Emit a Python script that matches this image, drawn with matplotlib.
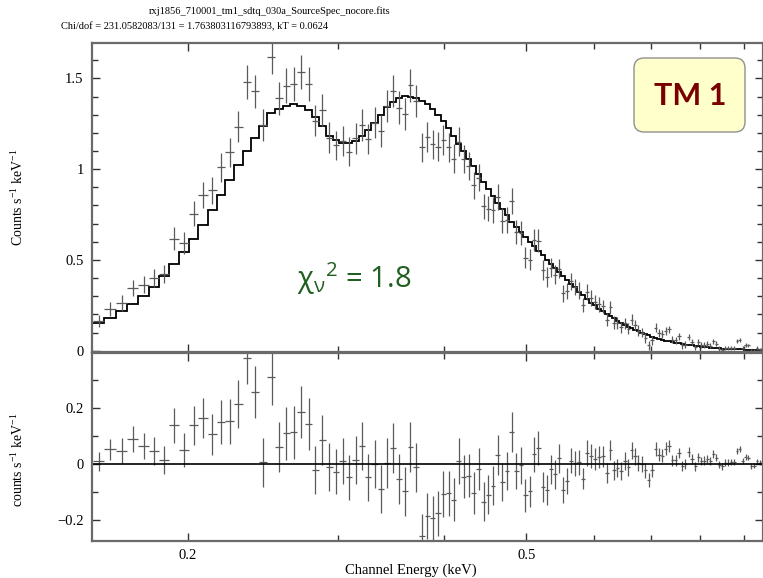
import numpy as np
import matplotlib
matplotlib.use("Agg")
import matplotlib.pyplot as plt
from matplotlib.patches import FancyBboxPatch
from matplotlib.transforms import IdentityTransform
from matplotlib.ticker import FixedLocator, NullFormatter, FixedFormatter

plt.rcParams['font.family'] = ['Liberation Serif', 'DejaVu Serif']
plt.rcParams['mathtext.fontset'] = 'custom'
plt.rcParams['mathtext.rm'] = 'Liberation Serif'
plt.rcParams['mathtext.it'] = 'Liberation Serif:italic'

# ---------------- data ----------------
energy = [0.1572,0.1622,0.1674,0.1724,0.1776,0.1826,0.1877,0.1929,0.1982,0.2033,
          0.2085,0.2138,0.2189,0.2241,0.2293,0.2348,0.2401,0.2454,0.2510,0.2560,
          0.2611,0.2664,0.2720,0.2775,0.2825,0.2879,0.2934,0.2987,0.3042,0.3097,
          0.3151,0.3205,0.3260,0.3317,0.3372,0.3427,0.3483,0.3540,0.3598,0.3653,
          0.3710,0.3768,0.3825,0.3882,0.3938,0.3995,0.4053,0.4109,0.4168,0.4221,
          0.4279,0.4337,0.4396,0.4456,0.4512,0.4569,0.4628,0.4686,0.4746,0.4807,
          0.4867,0.4925,0.4987,0.5046,0.5105,0.5165,0.5227,0.5288,0.5346,0.5404,
          0.5467,0.5527,0.5587,0.5648,0.5704,0.5767,0.5829,0.5893,0.5957,0.6017,
          0.6082,0.6148,0.6215,0.6276,0.6334,0.6396,0.6461,0.6526,0.6589,0.6650,
          0.6710,0.6770,0.6833,0.6900,0.6964,0.7026,0.7097,0.7161,0.7225,0.7292,
          0.7357,0.7423,0.7492,0.7559,0.7620,0.7689,0.7760,0.7829,0.7893,0.7957,
          0.8022,0.8088,0.8153,0.8220,0.8287,0.8354,0.8422,0.8491,0.8560,0.8630,
          0.8700,0.8771,0.8842,0.8907,0.8980,0.9053,0.9117,0.9191,0.9258,0.9334,
          0.9402,0.9468]

model = [0.153,0.180,0.217,0.257,0.300,0.353,0.410,0.478,0.544,0.617,
         0.694,0.777,0.860,0.942,1.021,1.102,1.172,1.236,1.310,1.330,
         1.350,1.357,1.350,1.325,1.290,1.240,1.185,1.158,1.145,1.143,
         1.155,1.180,1.215,1.255,1.300,1.345,1.372,1.393,1.402,1.400,
         1.390,1.378,1.360,1.330,1.300,1.265,1.225,1.185,1.140,1.100,
         1.058,1.015,0.972,0.930,0.892,0.853,0.815,0.780,0.745,0.710,
         0.680,0.652,0.625,0.600,0.575,0.550,0.525,0.500,0.477,0.455,
         0.432,0.410,0.390,0.370,0.350,0.325,0.305,0.285,0.265,0.250,
         0.232,0.217,0.203,0.190,0.178,0.165,0.153,0.142,0.132,0.123,
         0.115,0.107,0.100,0.092,0.085,0.078,0.072,0.066,0.061,0.056,
         0.052,0.048,0.044,0.040,0.037,0.034,0.031,0.029,0.026,0.024,
         0.022,0.020,0.019,0.017,0.016,0.015,0.013,0.012,0.011,0.010,
         0.0095,0.009,0.008,0.0075,0.007,0.0065,0.006,0.0055,0.005,0.0045,
         0.004,0.004]

residual = [0.010,0.052,0.048,0.088,0.064,0.046,0.013,0.138,0.049,0.138,
            0.165,0.106,0.150,0.152,0.214,0.379,0.256,0.006,0.310,0.060,
            0.110,0.113,0.185,0.144,-0.023,0.085,-0.012,-0.027,0.010,-0.048,
            0.015,0.063,-0.048,0.001,-0.090,0.004,0.057,-0.054,-0.098,0.061,
            -0.012,-0.257,-0.185,-0.193,-0.176,-0.106,-0.104,-0.127,0.011,-0.046,
            -0.042,-0.104,-0.019,-0.135,-0.110,-0.077,0.033,-0.064,-0.025,0.114,
            -0.025,-0.005,-0.112,-0.098,0.035,0.057,-0.081,-0.093,-0.019,-0.037,
            0.020,-0.093,-0.061,0.012,0.002,0.006,-0.052,0.039,0.027,0.018,
            0.024,0.027,-0.032,0.049,-0.023,-0.014,-0.025,0.010,-0.012,0.049,
            0.027,0.004,0.000,-0.023,-0.056,-0.020,0.054,0.033,0.030,0.055,
            0.065,0.013,0.013,0.039,-0.008,0.000,0.043,0.018,-0.008,0.024,
            0.010,0.012,0.018,0.010,0.036,0.023,-0.002,-0.008,0.004,0.004,
            0.006,0.007,0.046,0.052,0.010,0.025,0.023,-0.008,-0.006,0.010,
            0.004,0.006]

error = [0.034,0.038,0.044,0.046,0.048,0.050,0.050,0.063,0.060,0.069,
         0.071,0.073,0.078,0.080,0.085,0.095,0.092,0.088,0.098,0.090,
         0.095,0.094,0.094,0.093,0.086,0.089,0.085,0.080,0.083,0.080,
         0.085,0.086,0.083,0.086,0.086,0.089,0.089,0.089,0.087,0.090,
         0.088,0.080,0.083,0.080,0.081,0.082,0.080,0.078,0.081,0.077,
         0.077,0.074,0.075,0.070,0.069,0.070,0.071,0.069,0.069,0.071,
         0.065,0.065,0.060,0.056,0.062,0.061,0.054,0.054,0.052,0.052,
         0.052,0.046,0.046,0.046,0.045,0.045,0.038,0.045,0.043,0.040,
         0.040,0.038,0.036,0.035,0.034,0.033,0.032,0.031,0.030,0.030,
         0.029,0.028,0.027,0.026,0.025,0.025,0.024,0.023,0.022,0.022,
         0.021,0.020,0.020,0.019,0.018,0.018,0.017,0.017,0.016,0.016,
         0.015,0.015,0.014,0.014,0.013,0.013,0.013,0.012,0.012,0.012,
         0.011,0.011,0.011,0.011,0.010,0.010,0.010,0.010,0.010,0.009,
         0.009,0.009]

x_major = [0.2, 0.5]
x_major_labels = ['0.2', '0.5']
x_minor = [0.3, 0.4, 0.6, 0.7, 0.8, 0.9]
top_major = [0, 0.5, 1, 1.5]
top_major_labels = ['0', '0.5', '1', '1.5']
bot_major = [-0.2, 0, 0.2]
bot_major_labels = ['\u22120.2', '0', '0.2']

title1 = 'rxj1856_710001_tm1_sdtq_030a_SourceSpec_nocore.fits'
title2 = 'Chi/dof = 231.0582083/131 = 1.763803116793893, kT = 0.0624'

# ---------------- derived ----------------
E = np.array(energy)
M = np.array(model)
R = np.array(residual)
S = np.array(error)
D = M + R
mid = np.sqrt(E[:-1] * E[1:])
edges = np.concatenate([[E[0] ** 2 / mid[0]], mid, [E[-1] ** 2 / mid[-1]]])
xerr = np.vstack([E - edges[:-1], edges[1:] - E])

W, H = 763, 578
fig = plt.figure(figsize=(W / 100, H / 100), dpi=100)
L, Rr = 92 / W, 1.0
ax1 = fig.add_axes([L, 1 - 352 / H, Rr - L, (352 - 43) / H])
ax2 = fig.add_axes([L, 1 - 541 / H, Rr - L, (541 - 353) / H], sharex=ax1)

frame_c = '#6a6a6a'
pt_c = '#5a5a5a'
for ax in (ax1, ax2):
    ax.set_xscale('log')
    for sp in ax.spines.values():
        sp.set_color(frame_c)
        sp.set_linewidth(1.6)
    ax.tick_params(which='both', direction='in', top=True, right=True,
                   color='#333333', labelsize=10.5, pad=6)
    ax.tick_params(which='major', length=6, width=1.0)
    ax.tick_params(which='minor', length=4, width=1.0)

ax1.set_xlim(0.1544, 0.9485)
ax1.xaxis.set_major_locator(FixedLocator(x_major))
ax1.xaxis.set_minor_locator(FixedLocator(x_minor))
ax1.xaxis.set_minor_formatter(NullFormatter())
ax1.tick_params(axis='x', labelbottom=False)
ax2.xaxis.set_major_formatter(FixedFormatter(x_major_labels))
ax2.xaxis.set_minor_formatter(NullFormatter())

# top panel
ax1.errorbar(E, D, yerr=S, xerr=xerr, fmt='none', ecolor=pt_c, elinewidth=0.9,
             capsize=0)
ax1.stairs(M, edges, color='black', linewidth=1.3, baseline=None)
ax1.set_ylim(-0.007, 1.695)
ax1.yaxis.set_major_locator(FixedLocator(top_major))
ax1.yaxis.set_major_formatter(FixedFormatter(top_major_labels))
ax1.yaxis.set_minor_locator(FixedLocator(np.arange(0.1, 1.7, 0.1)))
ax1.set_ylabel('Counts s$^{-1}$ keV$^{-1}$', fontsize=10)
ax1.yaxis.set_label_coords(-0.098, 0.5)

# bottom panel
ax2.errorbar(E, R, yerr=S, xerr=xerr, fmt='none', ecolor=pt_c, elinewidth=0.9,
             capsize=0)
ax2.axhline(0, color='black', linewidth=1.2)
ax2.set_ylim(-0.275, 0.396)
ax2.yaxis.set_major_locator(FixedLocator(bot_major))
ax2.yaxis.set_major_formatter(FixedFormatter(bot_major_labels))
ax2.yaxis.set_minor_locator(FixedLocator([-0.1, 0.1, 0.3]))
ax2.set_ylabel('counts s$^{-1}$ keV$^{-1}$', fontsize=10)
ax2.yaxis.set_label_coords(-0.098, 0.43)
ax2.set_xlabel('Channel Energy (keV)', fontsize=10.5)
ax2.xaxis.set_label_coords((411 - 92) / (W - 92), -0.12)

# titles
fig.text(149 / W, 1 - 14.5 / H, title1, fontsize=7.5, ha='left', va='baseline')
fig.text(61 / W, 1 - 29.5 / H, title2, fontsize=7.5, ha='left', va='baseline')

# annotations
fig.text(297 / W, 1 - 288 / H, r'$\mathregular{χ_{ν}{}^{2}}$ = 1.8',
         fontfamily='Open Sans', fontsize=21, color='#1f5f1f',
         ha='left', va='baseline')
box = FancyBboxPatch((634, H - 132), 111, 74,
                     boxstyle='round,pad=0,rounding_size=10',
                     transform=IdentityTransform(), facecolor='#ffffcc',
                     edgecolor='#909090', linewidth=1.0)
fig.patches.append(box)
fig.text(690 / W, 1 - 96 / H, 'TM 1', fontfamily='Lato', fontweight='bold',
         fontsize=22, color='#7a0000', ha='center', va='center')

fig.savefig('out.png', dpi=100)
